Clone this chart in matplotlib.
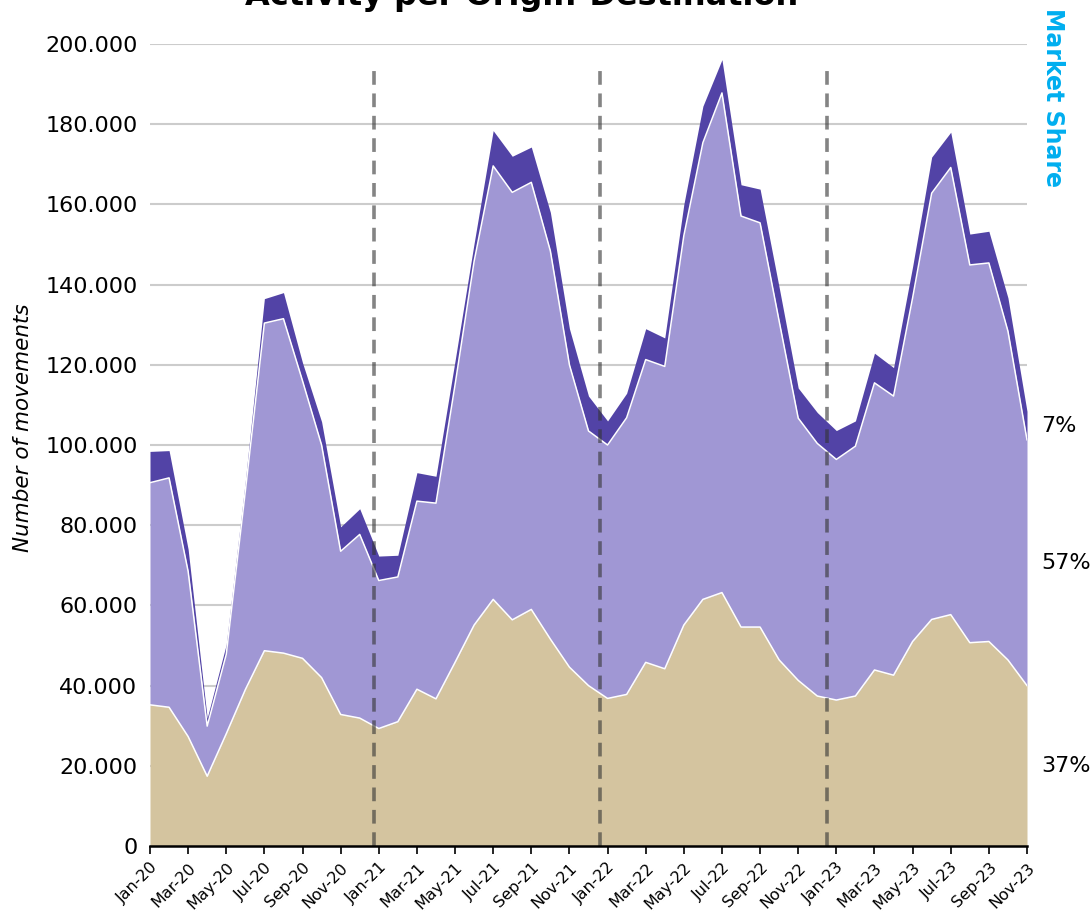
import numpy as np
import matplotlib
matplotlib.use("Agg")
import matplotlib.pyplot as plt
import matplotlib.ticker as mticker
import matplotlib.transforms as mtransforms
import pandas as pd

# --- Data (monthly movements, thousands) ---
MONTHS = pd.date_range("2020-01-01", periods=47, freq="MS")
MONTH_LABELS = MONTHS.strftime("%b-%y").tolist()

# bottom layer (tan)
domestic = [35.2, 34.6, 27.3, 17.4, 28.0, 39.0, 48.7, 48.1, 46.8, 42.0, 32.8, 31.9,
            29.3, 31.0, 39.1, 36.7, 45.8, 55.1, 61.5, 56.4, 59.0, 51.6, 44.6, 40.0,
            36.8, 37.8, 45.8, 44.2, 55.1, 61.5, 63.2, 54.6, 54.6, 46.4, 41.3, 37.4,
            36.4, 37.4, 43.9, 42.6, 51.0, 56.5, 57.7, 50.7, 51.0, 46.4, 40.0]
# middle layer (light purple)
european = [55.4, 57.2, 41.2, 12.5, 19.8, 49.5, 81.7, 83.4, 69.2, 58.0, 40.7, 45.8,
            36.9, 36.1, 46.9, 48.8, 69.2, 90.7, 108.1, 106.6, 106.5, 96.8, 75.4, 63.5,
            63.2, 69.0, 75.5, 75.4, 97.1, 113.9, 124.6, 102.5, 100.8, 84.5, 65.4, 63.0,
            60.0, 62.3, 71.6, 69.6, 85.7, 106.3, 111.5, 94.2, 94.4, 82.0, 61.3]
# top layer (dark purple)
intercont = [7.8, 6.8, 5.5, 2.0, 2.5, 2.5, 6.1, 6.5, 4.5, 5.8, 6.1, 6.4,
             6.1, 5.4, 7.1, 6.7, 6.0, 4.5, 8.8, 9.0, 8.8, 9.6, 9.0, 8.7,
             6.0, 6.1, 7.7, 7.1, 7.8, 9.1, 8.3, 7.8, 8.4, 8.4, 7.5, 7.7,
             7.2, 6.3, 7.4, 7.1, 7.8, 9.0, 8.8, 7.7, 7.9, 8.3, 7.1]

# season markers (month index)
breaks = [11.75, 23.6, 35.5]

TAN = "#D4C49F"
LILAC = "#A097D4"
PURPLE = "#5243A6"
SKY = "#00AEEF"

plt.rcParams["font.family"] = ["DejaVu Sans"]

x = np.arange(len(MONTH_LABELS))
y1 = np.array(domestic) * 1000
y2 = y1 + np.array(european) * 1000
y3 = y2 + np.array(intercont) * 1000

fig = plt.figure(figsize=(10.91, 9.15), dpi=100)
ax = fig.add_axes([150 / 1091, 69 / 915, 877 / 1091, 802 / 915])

ax.fill_between(x, 0, y1, color=TAN, linewidth=0, zorder=2)
ax.fill_between(x, y1, y2, color=LILAC, linewidth=0, zorder=2)
ax.fill_between(x, y2, y3, color=PURPLE, linewidth=0, zorder=2)
ax.plot(x, y1, color="white", linewidth=1.1, zorder=3)
ax.plot(x, y2, color="white", linewidth=1.1, zorder=3)

for b in breaks:
    ax.axvline(b, ymin=0, ymax=0.974, color="#333333", alpha=0.6,
               linestyle=(0, (3.8, 2.4)), linewidth=2.6, zorder=4)

ax.set_xlim(0, len(x) - 1)
ax.set_ylim(0, 200000)
ax.yaxis.set_major_locator(mticker.MultipleLocator(20000))
ax.yaxis.set_major_formatter(
    mticker.FuncFormatter(lambda v, p: f"{int(v):,}".replace(",", ".")))
ax.grid(axis="y", color="#cccccc", linewidth=1.5, zorder=1)
ax.set_axisbelow(True)

ax.set_xticks(x[::2])
ax.set_xticklabels(MONTH_LABELS[::2], rotation=45, ha="right",
                   rotation_mode="anchor", fontsize=11.5)
ax.tick_params(axis="x", length=6, width=1.2, color="black", pad=4)
ax.tick_params(axis="y", length=0, pad=9, labelsize=16)

for side in ["left", "right", "top"]:
    ax.spines[side].set_visible(False)
ax.spines["bottom"].set_linewidth(1.8)
ax.spines["bottom"].set_zorder(5)

ax.set_ylabel("Number of movements", fontsize=15.5, style="italic")
ax.yaxis.set_label_coords(-0.133, 0.521)

# share of each layer in the last month, written next to the layer
total = y3[-1]
trans = mtransforms.blended_transform_factory(ax.transAxes, ax.transData)
for lo, hi in [(0, y1[-1]), (y1[-1], y2[-1]), (y2[-1], y3[-1])]:
    share = round((hi - lo) / total * 100)
    ax.text(1.016, (lo + hi) / 2, f"{share}%", transform=trans,
            ha="left", va="center", fontsize=16)

fig.text(0.478, 1 - 5 / 915, "Activity per Origin-Destination",
         ha="center", va="baseline", fontsize=23, fontweight="bold")
fig.text(0.965, 1 - 8 / 915, "Market Share", rotation=-90, color=SKY,
         ha="center", va="top", fontsize=17, fontweight="bold")

fig.savefig("out.png", dpi=100)
